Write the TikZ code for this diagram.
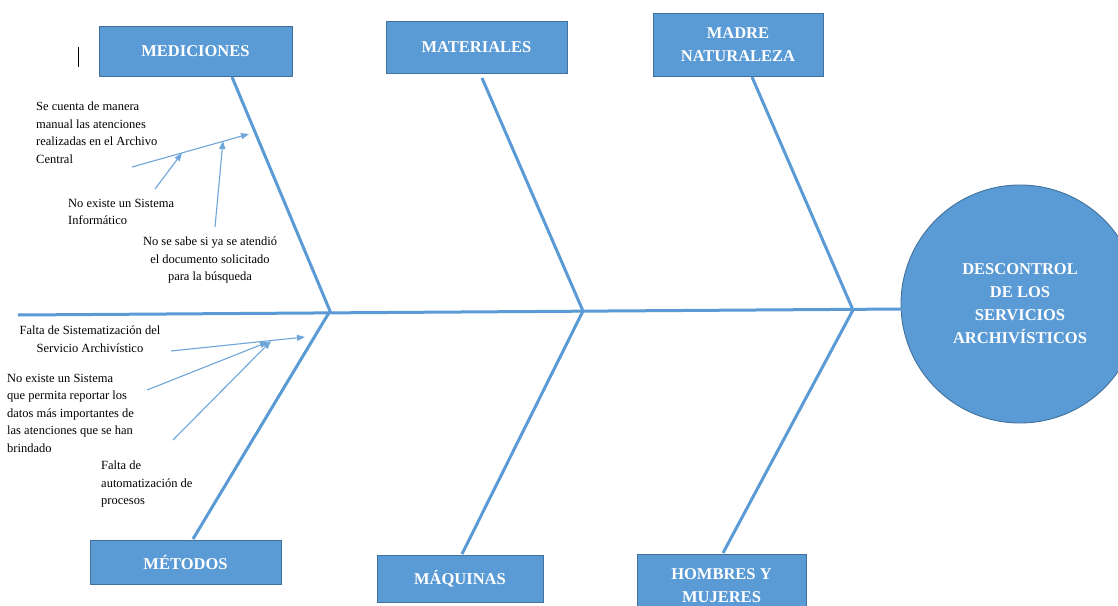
\documentclass[tikz,border=0pt]{standalone}
\usepackage{fontspec}
\setmainfont{Liberation Serif}
\usetikzlibrary{arrows.meta}
\definecolor{boneblue}{HTML}{5B9BD5}
\definecolor{edgeblue}{HTML}{41719C}
\definecolor{causeblue}{HTML}{6FA6DA}
\begin{document}
\begin{tikzpicture}[x=1pt,y=-1pt,
  catbox/.style={draw=edgeblue,line width=0.9pt,fill=boneblue,text=white,
    font=\bfseries\fontsize{16.5}{23}\selectfont,align=center,inner sep=0pt},
  effect/.style={circle,draw=edgeblue,line width=0.9pt,fill=boneblue,text=white,
    font=\bfseries\fontsize{16.5}{23}\selectfont,align=center,
    minimum size=238pt,inner sep=0pt},
  bone/.style={draw=boneblue,line width=3pt,line join=miter},
  cause/.style={draw=causeblue,line width=1.1pt,-{Triangle[length=8pt,width=6pt]}},
  note/.style={font=\fontsize{12.5}{17.5}\selectfont,inner sep=0pt}]

\useasboundingbox (0,0) rectangle (1118,605);
\fill[white] (0,0) rectangle (1118,605);
\clip (0,0) rectangle (1118,605);

% category boxes
\node[catbox,minimum width=193pt,minimum height=50pt] (med) at (195.5,51) {MEDICIONES};
\node[catbox,minimum width=181pt,minimum height=52pt] (mat) at (476.5,47) {MATERIALES};
\node[catbox,minimum width=170pt,minimum height=63pt] (mad) at (738,44.5) {MADRE\\NATURALEZA};
\node[catbox,minimum width=191pt,minimum height=44pt] (met) at (185.5,562) {MÉTODOS};
\node[catbox,minimum width=166pt,minimum height=47pt] (maq) at (460,578.5) {MÁQUINAS};
\node[catbox,minimum width=169pt,minimum height=63pt] (hom) at (721.5,585.5) {HOMBRES Y\\MUJERES};

% effect
\node[effect] (eff) at (1020,304) {DESCONTROL\\DE LOS\\SERVICIOS\\ARCHIVÍSTICOS};

% spine
\coordinate (tail) at (18,315);
\coordinate (head) at (903,309);
\draw[bone] (tail) -- (head);

% bone end points and joints
\coordinate (bmed) at (232,77);
\coordinate (bmet) at (193,539);
\coordinate (j1) at (330,311);
\coordinate (bmat) at (482,78);
\coordinate (bmaq) at (462,554);
\coordinate (j2) at (583,311);
\coordinate (bmad) at (752,77);
\coordinate (bhom) at (723,553);
\coordinate (j3) at (853,310);

\draw[bone] (bmed) -- (j1) -- (bmet);
\draw[bone] (bmat) -- (j2) -- (bmaq);
\draw[bone] (bmad) -- (j3) -- (bhom);

% causes under MEDICIONES
\node[note,anchor=north west,align=left] (c1) at (36,102)
  {Se cuenta de manera\\manual las atenciones\\realizadas en el Archivo\\Central};
\node[note,anchor=north west,align=left] (c2) at (68,199)
  {No existe un Sistema\\Informático};
\node[note,anchor=north,align=center] (c3) at (210,237)
  {No se sabe si ya se atendió\\el documento solicitado\\para la búsqueda};

\coordinate (a1s) at (132,167);
\coordinate (a1e) at (249,134);
\coordinate (a2s) at (155,189);
\coordinate (a2e) at (182,153);
\coordinate (a3s) at (215,227);
\coordinate (a3e) at (223,141);
\draw[cause] (a1s) -- (a1e);
\draw[cause] (a2s) -- (a2e);
\draw[cause] (a3s) -- (a3e);

% causes under MÉTODOS
\node[note,anchor=north,align=center] (c4) at (90,326)
  {Falta de Sistematización del\\Servicio Archivístico};
\node[note,anchor=north west,align=left] (c5) at (7,374)
  {No existe un Sistema\\que permita reportar los\\datos más importantes de\\las atenciones que se han\\brindado};
\node[note,anchor=north west,align=left] (c6) at (101,461)
  {Falta de\\automatización de\\procesos};

\coordinate (a4s) at (171,351);
\coordinate (a4e) at (305,337);
\coordinate (a5s) at (147,390);
\coordinate (a5e) at (268,342);
\coordinate (a6s) at (173,440);
\coordinate (a6e) at (271,341);
\draw[cause] (a4s) -- (a4e);
\draw[cause] (a5s) -- (a5e);
\draw[cause] (a6s) -- (a6e);

% text cursor mark
\draw[black,line width=0.8pt] (78,47) -- (78,67);
\end{tikzpicture}
\end{document}
